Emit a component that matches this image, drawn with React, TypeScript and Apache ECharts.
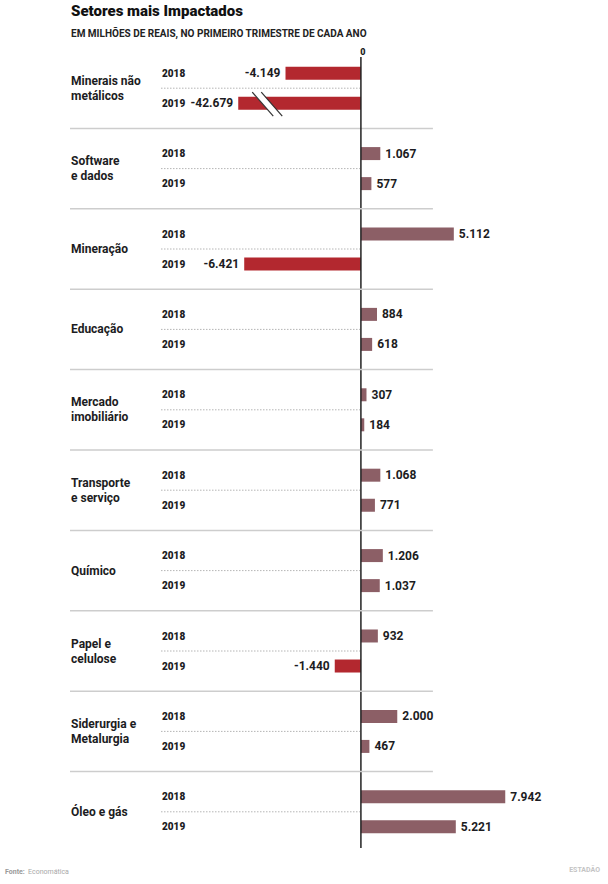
import React, { useEffect, useRef } from 'react';
import * as echarts from 'echarts';

const sectors = [
  'Minerais não\nmetálicos',
  'Software\ne dados',
  'Mineração',
  'Educação',
  'Mercado\nimobiliário',
  'Transporte\ne serviço',
  'Químico',
  'Papel e\ncelulose',
  'Siderurgia e\nMetalurgia',
  'Óleo e gás',
];
const years = ['2018', '2019'];
const values2018 = [-4149, 1067, 5112, 884, 307, 1068, 1206, 932, 2000, 7942];
const values2019 = [-42679, 577, -6421, 618, 184, 771, 1037, -1440, 467, 5221];
const zeroTickLabel = '0';

const BREAK_AT = -6750;
const X_MIN = -11000;
const X_MAX = 12000;

const FONT = 'Roboto, "Noto Sans", sans-serif';
const DARK = '#1c1c22';
const RED = '#b3282f';
const MAUVE = '#8c5f66';

function fmt(v: number): string {
  const s = Math.abs(v)
    .toString()
    .replace(/\B(?=(\d{3})+(?!\d))/g, '.');
  return (v < 0 ? '-' : '') + s;
}

const seriesValues = [values2018, values2019];

function barData(vals: number[]) {
  return vals.map((v) => ({
    value: Math.max(v, BREAK_AT),
    itemStyle: { color: v < 0 ? RED : MAUVE },
    label: { position: v < 0 ? 'left' : 'right' },
  }));
}

export default function App() {
  const ref = useRef<HTMLDivElement>(null);
  useEffect(() => {
    if (!ref.current) return;
    const chart = echarts.init(ref.current, null, { renderer: 'svg' });
    const labelStyle = {
      show: true,
      distance: 5,
      fontFamily: FONT,
      fontWeight: 'bold' as const,
      fontSize: 12,
      color: DARK,
    };
    chart.setOption({
      animation: false,
      grid: { left: 161, right: 29, top: 48, bottom: 32, containLabel: false },
      xAxis: {
        type: 'value',
        min: X_MIN,
        max: X_MAX,
        interval: 1000,
        show: false,
      },
      yAxis: {
        type: 'category',
        inverse: true,
        data: sectors,
        axisLine: { show: false },
        axisTick: { show: false },
        splitLine: { show: false },
        axisLabel: {
          align: 'left',
          margin: 90,
          fontFamily: FONT,
          fontWeight: 'bold',
          fontSize: 12,
          lineHeight: 15,
          color: DARK,
        },
      },
      series: [
        {
          type: 'bar',
          name: years[0],
          data: barData(values2018),
          barWidth: 13,
          barGap: '131%',
          z: 2,
          label: {
            ...labelStyle,
            formatter: (p: any) => fmt(values2018[p.dataIndex]),
          },
        },
        {
          type: 'bar',
          name: years[1],
          data: barData(values2019),
          barWidth: 13,
          barGap: '131%',
          z: 2,
          label: {
            ...labelStyle,
            formatter: (p: any) => fmt(values2019[p.dataIndex]),
          },
        },
        {
          type: 'custom',
          z: 3,
          silent: true,
          clip: false,
          encode: { x: 0, y: 1 },
          data: sectors.map((_, i) => [0, i]),
          renderItem: (params: any, api: any) => {
            const i = params.dataIndex;
            const cs = params.coordSys;
            const pt = api.coord([0, i]);
            const x0 = pt[0];
            const cy = pt[1];
            const band = api.size([0, 1])[1];
            const children: any[] = [];
            children.push({
              type: 'line',
              shape: { x1: cs.x, y1: cy, x2: x0 - 1, y2: cy },
              style: { stroke: '#b5b5b5', lineWidth: 1, lineDash: [1.5, 1.5] },
            });
            [-15, 15].forEach((off, k) => {
              children.push({
                type: 'text',
                x: cs.x + 1,
                y: cy + off,
                style: {
                  text: years[k],
                  fontFamily: FONT,
                  fontWeight: 900,
                  fontSize: 10,
                  fill: DARK,
                  verticalAlign: 'middle',
                  align: 'left',
                },
              });
            });
            if (i < sectors.length - 1) {
              children.push({
                type: 'line',
                shape: { x1: 70, y1: cy + band / 2, x2: x0 + 72, y2: cy + band / 2 },
                style: { stroke: '#cdcdcd', lineWidth: 1.5 },
              });
            }
            if (i === 0) {
              children.push({
                type: 'line',
                shape: { x1: x0, y1: cs.y + 9, x2: x0, y2: cs.y + cs.height - 4 },
                style: { stroke: '#222', lineWidth: 1.5 },
              });
              children.push({
                type: 'text',
                x: x0 + 2,
                y: cs.y + 4,
                style: {
                  text: zeroTickLabel,
                  fontFamily: FONT,
                  fontWeight: 900,
                  fontSize: 9,
                  fill: DARK,
                  align: 'center',
                  verticalAlign: 'middle',
                },
              });
            }
            seriesValues.forEach((vals, k) => {
              const v = vals[i];
              if (v < BREAK_AT) {
                const bx = api.coord([BREAK_AT, i])[0] + 14;
                const by = cy + (k === 0 ? -15 : 15);
                const top = by - 11;
                const bot = by + 13;
                children.push({
                  type: 'polygon',
                  shape: {
                    points: [
                      [bx, top],
                      [bx + 9, top],
                      [bx + 30, bot],
                      [bx + 21, bot],
                    ],
                  },
                  style: { fill: '#fff' },
                });
                children.push({
                  type: 'line',
                  shape: { x1: bx, y1: top, x2: bx + 21, y2: bot },
                  style: { stroke: '#333', lineWidth: 1.2 },
                });
                children.push({
                  type: 'line',
                  shape: { x1: bx + 9, y1: top, x2: bx + 30, y2: bot },
                  style: { stroke: '#333', lineWidth: 1.2 },
                });
              }
            });
            return { type: 'group', children };
          },
        },
      ],
      graphic: [
        {
          type: 'text',
          left: 71,
          top: 3,
          style: {
            text: 'Setores mais Impactados',
            fontFamily: FONT,
            fontWeight: 900,
            fontSize: 15,
            fill: '#111',
          },
        },
        {
          type: 'text',
          left: 71,
          top: 28,
          style: {
            text: 'EM MILHÕES DE REAIS, NO PRIMEIRO TRIMESTRE DE CADA ANO',
            fontFamily: FONT,
            fontWeight: 'bold',
            fontSize: 10,
            fill: '#222',
          },
        },
        {
          type: 'text',
          left: 5,
          top: 866,
          style: {
            rich: {
              b: { fontFamily: FONT, fontWeight: 'bold', fontSize: 7, fill: '#9a9a9a' },
              n: { fontFamily: FONT, fontSize: 7, fill: '#a8a8a8' },
            },
            text: '{b|Fonte:} {n|Economática}',
          },
        },
        {
          type: 'text',
          right: 8,
          top: 866,
          style: {
            text: 'ESTADÃO',
            fontFamily: FONT,
            fontWeight: 'bold',
            fontSize: 7,
            fill: '#c4c4c4',
          },
        },
      ],
    });
    return () => chart.dispose();
  }, []);
  return <div ref={ref} style={{ width: 608, height: 884, position: 'absolute', left: 0, top: 0 }} />;
}
